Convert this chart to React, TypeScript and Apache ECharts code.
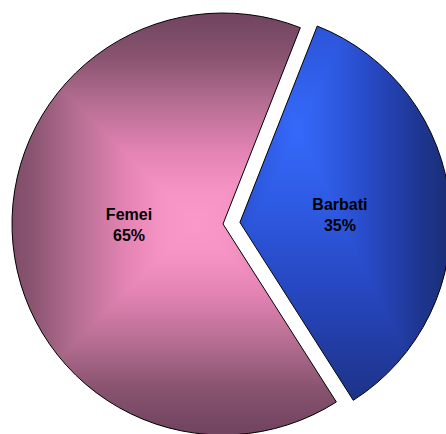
import React, { useEffect, useRef } from "react";
import * as echarts from "echarts";

// Slice data
const categories = ["Barbati", "Femei"];
const values = [35, 65];

// Shading ramps (t = 0 at the bright centre, t = 1 at the rim)
const pinkStops: [number, string][] = [
  [0, "#fb98ca"],
  [0.15, "#f794c6"],
  [0.35, "#e283b3"],
  [0.6, "#b26c8f"],
  [0.8, "#8a5471"],
  [1, "#724560"],
];
const blueStops: [number, string][] = [
  [0, "#3569fa"],
  [0.25, "#2e5ae2"],
  [0.5, "#2748c2"],
  [0.75, "#20399a"],
  [1, "#1a2e76"],
];

const W = 446;
const H = 434;
const CX = 223;
const CY = 224;
const R = 211;
const START = 68.5;

function hexToRgb(h: string): [number, number, number] {
  const n = parseInt(h.slice(1), 16);
  return [(n >> 16) & 255, (n >> 8) & 255, n & 255];
}

function ramp(stops: [number, string][], t: number): [number, number, number] {
  for (let i = 1; i < stops.length; i++) {
    if (t <= stops[i][0]) {
      const [t0, c0] = stops[i - 1];
      const [t1, c1] = stops[i];
      const k = (t - t0) / (t1 - t0);
      const a = hexToRgb(c0);
      const b = hexToRgb(c1);
      return [0, 1, 2].map((j) => a[j] + (b[j] - a[j]) * k) as [number, number, number];
    }
  }
  return hexToRgb(stops[stops.length - 1][1]);
}

// Rectangular "from centre" gradient painted onto a canvas used as a fill pattern.
// (cx, cy) are given relative to the top-left of the slice's bounding box.
function boxGradient(
  cx: number,
  cy: number,
  hw: number,
  hh: number,
  stops: [number, string][]
): HTMLCanvasElement {
  const c = document.createElement("canvas");
  c.width = W;
  c.height = H;
  const ctx = c.getContext("2d")!;
  const img = ctx.createImageData(W, H);
  for (let y = 0; y < H; y++) {
    for (let x = 0; x < W; x++) {
      const t = Math.min(1, Math.max(Math.abs(x - cx) / hw, Math.abs(y - cy) / hh));
      const [r, g, b] = ramp(stops, t);
      const i = (y * W + x) * 4;
      img.data[i] = r;
      img.data[i + 1] = g;
      img.data[i + 2] = b;
      img.data[i + 3] = 255;
    }
  }
  ctx.putImageData(img, 0, 0);
  return c;
}

export default function App() {
  const ref = useRef<HTMLDivElement>(null);

  useEffect(() => {
    if (!ref.current) return;
    const chart = echarts.init(ref.current, null, { renderer: "svg" });

    // bounding-box origins of the two sectors (in unshifted slice space)
    const topAngle = ((90 - START) * Math.PI) / 180; // clockwise from 12 o'clock
    const blueMinX = CX;
    const blueMinY = CY - R * Math.cos(topAngle);
    const pinkMinX = CX - R;
    const pinkMinY = CY - R;

    // bright spots: pink near (195, 222); blue near (280, 131) before the slice is pulled out
    const pinkFill = boxGradient(195 - pinkMinX, 222 - pinkMinY, 205, 205, pinkStops);
    const blueFill = boxGradient(280 - blueMinX, 131 - blueMinY, 150, 310, blueStops);
    const fills = [blueFill, pinkFill];
    const labelShift: [number, number][] = [
      [-8, 3],
      [14, -9],
    ];

    chart.setOption({
      animation: false,
      series: [
        {
          type: "pie",
          center: [CX, CY],
          radius: R,
          startAngle: START,
          clockwise: true,
          selectedMode: "single",
          selectedOffset: 17,
          silent: true,
          avoidLabelOverlap: false,
          itemStyle: {
            borderColor: "#000",
            borderWidth: 1,
          },
          label: {
            show: true,
            position: "inside",
            color: "#000",
            fontFamily: "Liberation Sans, Arial, sans-serif",
            fontWeight: "bold",
            fontSize: 16,
            lineHeight: 21,
            align: "center",
            formatter: (p: any) => `${p.name}\n${Math.round(p.percent)}%`,
          },
          labelLine: { show: false },
          labelLayout: (p: any) => ({
            dx: labelShift[p.dataIndex][0],
            dy: labelShift[p.dataIndex][1],
          }),
          emphasis: { disabled: true },
          data: categories.map((name, i) => ({
            name,
            value: values[i],
            selected: i === 0,
            itemStyle: { color: { image: fills[i], repeat: "no-repeat" } },
          })),
        },
      ],
    });

    return () => chart.dispose();
  }, []);

  return (
    <div
      ref={ref}
      style={{
        position: "fixed",
        left: 0,
        top: 0,
        width: W,
        height: H,
        background: "#fff",
      }}
    />
  );
}
